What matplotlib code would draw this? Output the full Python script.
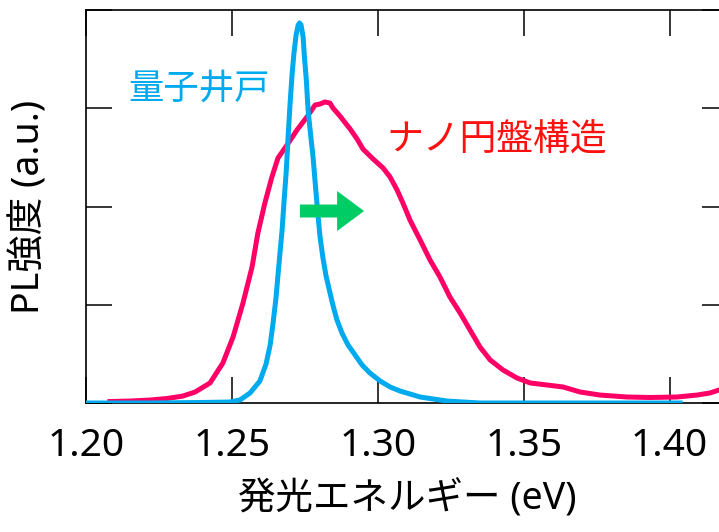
import matplotlib
matplotlib.use("Agg")
import matplotlib.pyplot as plt
from matplotlib.patches import FancyArrow

plt.rcParams['font.family'] = ['Noto Sans', 'Noto Sans CJK JP', 'DejaVu Sans']

# Quantum well PL (blue)
qw_x = [1.2000, 1.2219, 1.2391, 1.2493, 1.2528, 1.2562, 1.2596, 1.2617, 1.2631, 1.2641,
        1.2651, 1.2661, 1.2672, 1.2679, 1.2686, 1.2693, 1.2699, 1.2706, 1.2713, 1.2720,
        1.2727, 1.2732, 1.2737, 1.2744, 1.2748, 1.2755, 1.2761, 1.2768, 1.2778, 1.2788,
        1.2795, 1.2802, 1.2812, 1.2822, 1.2833, 1.2846, 1.2860, 1.2877, 1.2898, 1.2922,
        1.2946, 1.2973, 1.3008, 1.3042, 1.3076, 1.3145, 1.3237, 1.3350, 1.3590, 1.4036]
qw_y = [0.000, 0.000, 0.005, 0.010, 0.031, 0.102, 0.224, 0.397, 0.590, 0.814,
        1.069, 1.405, 1.761, 2.066, 2.351, 2.728, 3.033, 3.338, 3.573, 3.746,
        3.847, 3.868, 3.847, 3.725, 3.542, 3.288, 2.982, 2.779, 2.504, 2.148,
        1.913, 1.690, 1.476, 1.303, 1.160, 0.997, 0.845, 0.713, 0.590, 0.489,
        0.387, 0.305, 0.224, 0.163, 0.122, 0.061, 0.020, 0.000, 0.000, 0.000]

# Nano-disk PL (red)
nd_x = [1.2082, 1.2151, 1.2219, 1.2278, 1.2332, 1.2374, 1.2425, 1.2469, 1.2504, 1.2538,
        1.2569, 1.2589, 1.2613, 1.2637, 1.2658, 1.2689, 1.2723, 1.2757, 1.2785, 1.2802,
        1.2819, 1.2836, 1.2846, 1.2870, 1.2905, 1.2929, 1.2949, 1.2984, 1.3018, 1.3042,
        1.3066, 1.3086, 1.3110, 1.3145, 1.3179, 1.3213, 1.3247, 1.3282, 1.3316, 1.3350,
        1.3385, 1.3429, 1.3477, 1.3522, 1.3580, 1.3635, 1.3693, 1.3761, 1.3854, 1.3933,
        1.4025, 1.4094, 1.4138, 1.4169, 1.4200]
nd_y = [0.015, 0.020, 0.030, 0.046, 0.071, 0.112, 0.204, 0.407, 0.672, 1.018,
        1.384, 1.730, 2.036, 2.300, 2.494, 2.626, 2.779, 2.911, 3.033, 3.043,
        3.064, 3.053, 3.003, 2.921, 2.789, 2.687, 2.585, 2.483, 2.392, 2.300,
        2.168, 2.036, 1.863, 1.659, 1.455, 1.282, 1.079, 0.916, 0.743, 0.570,
        0.438, 0.336, 0.254, 0.204, 0.183, 0.163, 0.112, 0.081, 0.061, 0.056,
        0.061, 0.081, 0.102, 0.132, 0.153]

x_ticks = [1.20, 1.25, 1.30, 1.35, 1.40]
x_ticklabels = ["1.20", "1.25", "1.30", "1.35", "1.40"]
y_ticks = [0, 1, 2, 3, 4]

fig = plt.figure(figsize=(7.19, 5.32), dpi=100)
ax = fig.add_axes([86/719, (532-403)/532, 642/719, 393/532])

ax.plot(nd_x, nd_y, color='#FF0066', lw=3.6, solid_joinstyle='round', zorder=3)
ax.plot(qw_x, qw_y, color='#00AAEE', lw=3.6, solid_joinstyle='round', zorder=4)

ax.set_xlim(1.20, 1.42)
ax.set_ylim(0, 4)
ax.set_xticks(x_ticks)
ax.set_xticklabels(x_ticklabels)
ax.set_yticks(y_ticks)
ax.set_yticklabels([])
ax.tick_params(direction='in', length=19, width=1.1, top=True, right=True,
               labelsize=28, pad=17, colors='black')
for s in ax.spines.values():
    s.set_linewidth(1.2)
ax.set_xlabel("発光エネルギー (eV)", fontsize=27, labelpad=11)
ax.set_ylabel("PL強度 (a.u.)", fontsize=27, labelpad=10)

ax.text(1.2144, 3.20, "量子井戸", color='#00AAEE', fontsize=25.5,
        ha='left', va='center', family=['Noto Sans CJK JP'])
ax.text(1.3031, 2.68, "ナノ円盤構造", color='#FF1010', fontsize=26.5,
        ha='left', va='center', family=['Noto Sans CJK JP'])

arrow = FancyArrow(1.2733, 1.954, 0.0220, 0, width=0.132, head_width=0.407,
                   head_length=0.00925, length_includes_head=True,
                   color='#00CC66', lw=0, zorder=5)
ax.add_patch(arrow)

fig.savefig("out.png", dpi=100)
